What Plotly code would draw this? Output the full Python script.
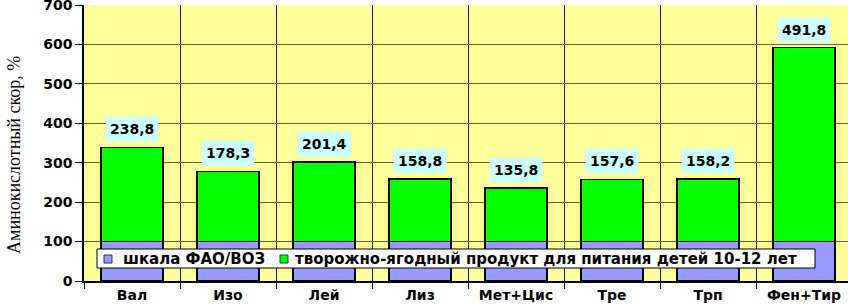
import plotly.graph_objects as go

categories = ["Вал", "Изо", "Лей", "Лиз", "Мет+Цис", "Тре", "Трп", "Фен+Тир"]
fao_scale = [100, 100, 100, 100, 100, 100, 100, 100]
product = [238.8, 178.3, 201.4, 158.8, 135.8, 157.6, 158.2, 491.8]
labels = ["238,8", "178,3", "201,4", "158,8", "135,8", "157,6", "158,2", "491,8"]
y_ticks = [0, 100, 200, 300, 400, 500, 600, 700]
series_names = ["шкала ФАО/ВОЗ", "творожно-ягодный продукт для питания детей 10-12 лет"]
series_colors = ["#9999FF", "#00FF00"]

xs = list(range(len(categories)))
FONT = "DejaVu Sans, Verdana, Arial"
bold = dict(family=FONT, size=14, color="black", weight="bold")

# plot area geometry in pixels
L, T, R, B = 84, 5, 848, 281
def px(x):
    return (x - L) / (R - L)
def py(y):
    return (B - y) / (B - T)

fig = go.Figure()
for vals, name, col in zip([fao_scale, product], series_names, series_colors):
    fig.add_bar(x=xs, y=vals, name=name, showlegend=False,
                marker=dict(color=col, line=dict(color="black", width=1.5)), width=0.65)

for x, b, p, t in zip(xs, fao_scale, product, labels):
    fig.add_annotation(x=x, y=b + p, text=t, showarrow=False, yanchor="bottom", yshift=5,
                       bgcolor="#CCFFFF", font=bold, borderpad=4)

# y axis title
fig.add_annotation(xref="paper", yref="paper", x=px(14), y=py(155),
                   text="Аминокислотный скор, %", textangle=-90, showarrow=False,
                   xanchor="center", yanchor="middle",
                   font=dict(family="Liberation Serif, Times New Roman", size=18, color="black"))

# legend box inside the plot
fig.add_shape(type="rect", xref="paper", yref="paper", x0=px(97), x1=px(815), y0=py(268), y1=py(249),
              fillcolor="white", line=dict(color="black", width=1), layer="above")
for sx, tx, name, col in zip([104, 280], [121, 293], series_names, series_colors):
    fig.add_shape(type="rect", xref="paper", yref="paper", x0=px(sx), x1=px(sx + 8), y0=py(263), y1=py(255),
                  fillcolor=col, line=dict(color="#333333", width=1), layer="above")
    fig.add_annotation(xref="paper", yref="paper", x=px(tx), y=py(259), text=name, showarrow=False,
                       xanchor="left", yanchor="middle", font=dict(family=FONT, size=15, color="black", weight="bold"))

fig.update_layout(
    width=848, height=306, barmode="stack",
    margin=dict(l=L, r=0, t=T, b=306 - B, autoexpand=False),
    paper_bgcolor="white", plot_bgcolor="#FFFF99",
    showlegend=False,
    xaxis=dict(range=[-0.5, -0.5 + (R - L) / 96], tickvals=xs, ticktext=categories,
               tickfont=bold, showgrid=False, ticks="", showline=True, linecolor="black", linewidth=1.5,
               zeroline=False, automargin=False,
               minor=dict(tickvals=[i + 0.5 for i in range(-1, 8)], showgrid=True, gridcolor="#222200",
                          gridwidth=1, ticks="outside", ticklen=6, tickcolor="black")),
    yaxis=dict(range=[0, 700], tickvals=y_ticks, tickfont=bold, automargin=False, ticklabeloverflow="allow",
               showgrid=True, gridcolor="#666633", gridwidth=1, ticks="outside", ticklen=7, tickcolor="black",
               showline=True, linecolor="black", linewidth=1.5, zeroline=False),
)

fig.write_html("out.html", config={"displayModeBar": False},
               post_script="document.body.style.margin='0px';")
